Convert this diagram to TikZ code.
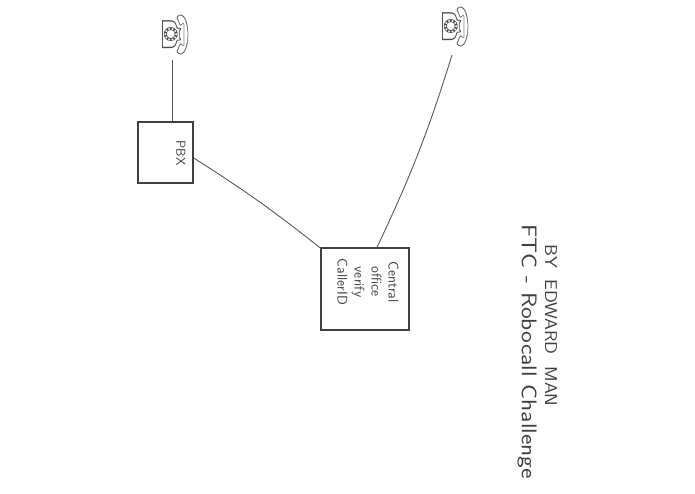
\documentclass[tikz,border=0pt]{standalone}
\usepackage{fontspec}
\newfontfamily\symf{DejaVu Sans}
\begin{document}
\begin{tikzpicture}[x=1pt,y=1pt,
  pen/.style={draw=black!65,line width=0.9pt},
  box/.style={pen,draw=black!75,line width=1.3pt},
  phone/.style={rotate=-90,text=black!70,font=\symf\fontsize{36}{36}\selectfont,inner sep=0pt},
  txt/.style={rotate=-90,text=black!75,font=\sffamily}]
\useasboundingbox (0,0) rectangle (695,494);
\node[phone] (p1) at (176,459) {☏};
\node[phone] (p2) at (456,467) {☏};
\node[box,minimum width=55pt,minimum height=61pt] (pbx) at (165.5,341.5) {};
\node[txt,font=\sffamily\fontsize{13}{13}\selectfont] (pbxl) at (181,341) {PBX};
\node[box,minimum width=88pt,minimum height=82pt] (co) at (365,205) {};
\node[txt,align=center,font=\sffamily\fontsize{14}{17}\selectfont,inner sep=0pt] (col) at (368,212) {Central\\office\\verify\\CallerID};
\coordinate (a1) at (172,434);
\coordinate (a2) at (452,439);
\draw[pen] (a1) -- (pbx.north -| a1);
\draw[pen] (pbx.east |- 0,336) to[bend left=3] (co.north west |- 0,246) -- ++(3,0);
\draw[pen] (a2) to[bend left=4] (co.north -| 377,0);
\node[txt,font=\sffamily\fontsize{19}{19}\selectfont,anchor=west,inner sep=0pt,yscale=0.9] (by) at (551,250) {BY\ \ EDWARD\ \ MAN};
\node[txt,font=\sffamily\fontsize{25}{25}\selectfont,anchor=west,inner sep=0pt,yscale=0.85] (ftc) at (527,270) {FTC - Robocall Challenge};
\end{tikzpicture}
\end{document}
